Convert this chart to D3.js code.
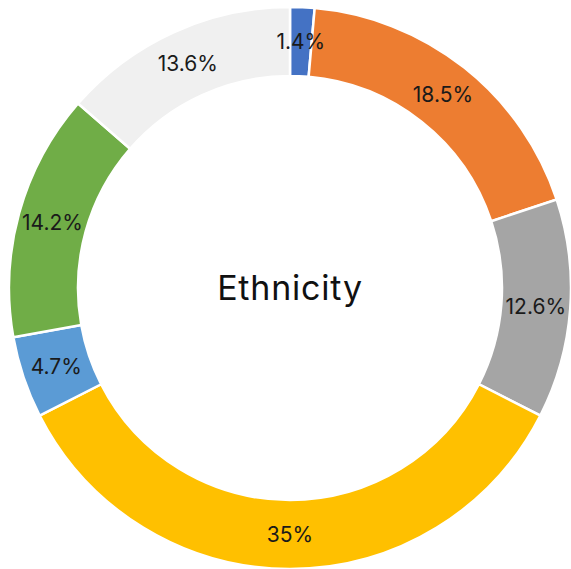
<!DOCTYPE html>
<html>
<head>
<meta charset="utf-8">
<script src="https://cdn.jsdelivr.net/npm/d3@7"></script>
<style>
  html, body { margin: 0; padding: 0; background: #fff; }
  svg { display: block; }
</style>
</head>
<body>
<svg id="chart"></svg>
<script>
// chart data, clockwise from 12 o'clock
const categories = ["A", "B", "C", "D", "E", "F", "G"];
const values = [1.4, 18.5, 12.6, 35, 4.7, 14.2, 13.6];
const labels = ["1.4%", "18.5%", "12.6%", "35%", "4.7%", "14.2%", "13.6%"];
const colors = ["#4472C4", "#ED7D31", "#A5A5A5", "#FFC000", "#5B9BD5", "#70AD47", "#F0F0F0"];
const title = "Ethnicity";

const width = 571, height = 569;
const cx = 290, cy = 288;
const outerR = 281, innerR = 212;

const svg = d3.select("#chart")
    .attr("width", width)
    .attr("height", height)
    .attr("font-family", "Inter, 'DejaVu Sans', sans-serif");

const data = categories.map((c, i) => ({cat: c, value: values[i], label: labels[i], color: colors[i]}));

const pie = d3.pie()
    .sort(null)
    .value(d => d.value);

const arc = d3.arc()
    .innerRadius(innerR)
    .outerRadius(outerR);

const g = svg.append("g")
    .attr("transform", `translate(${cx},${cy})`);

const arcs = pie(data);

g.selectAll("path")
  .data(arcs)
  .join("path")
    .attr("d", arc)
    .attr("fill", d => d.data.color)
    .attr("stroke", "#fff")
    .attr("stroke-width", 2.5);

g.selectAll("text.lbl")
  .data(arcs)
  .join("text")
    .attr("class", "lbl")
    .attr("transform", d => `translate(${arc.centroid(d)})`)
    .attr("text-anchor", "middle")
    .attr("dy", "0.35em")
    .attr("font-size", 21)
    .attr("fill", "#1a1a1a")
    .text(d => d.data.label);

g.append("text")
    .attr("text-anchor", "middle")
    .attr("dy", "0.35em")
    .attr("font-size", 34)
    .attr("letter-spacing", 0.8)
    .attr("fill", "#111")
    .text(title);
</script>
</body>
</html>
